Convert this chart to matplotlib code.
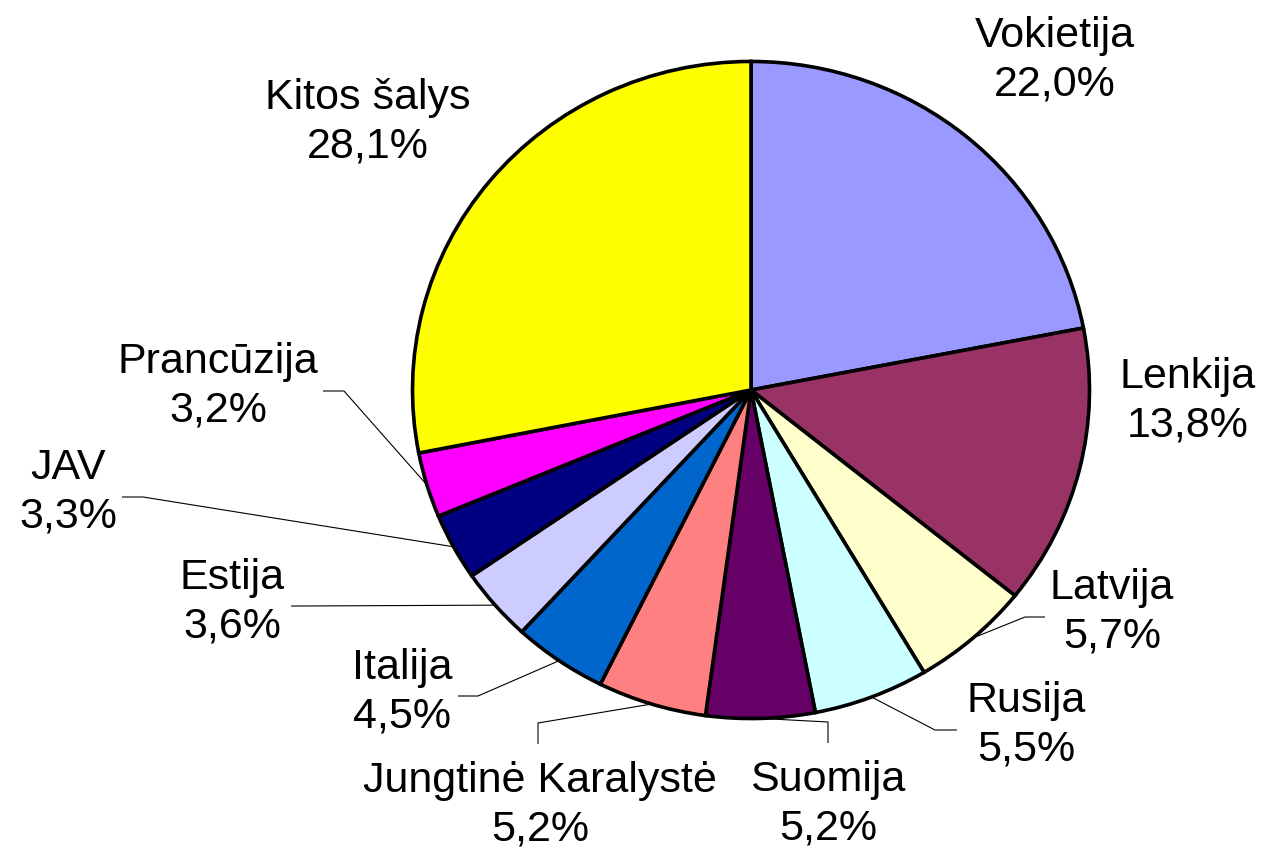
import matplotlib
matplotlib.use('Agg')
import matplotlib.pyplot as plt
import numpy as np

# export shares by country, clockwise from the top
countries = ['Vokietija', 'Lenkija', 'Latvija', 'Rusija', 'Suomija',
             'Jungtinė Karalystė', 'Italija', 'Estija', 'JAV', 'Prancūzija',
             'Kitos šalys']
shares = [22.0, 13.8, 5.7, 5.5, 5.2, 5.2, 4.5, 3.6, 3.3, 3.2, 28.1]
colors = ['#9999FF', '#993366', '#FFFFCC', '#CCFFFF', '#660066', '#FF8080',
          '#0066CC', '#CCCCFF', '#000080', '#FF00FF', '#FFFF00']

# layout, in image pixels (origin top left)
W, H = 1264, 852
CX, CY = 751, 390
R = 338.5            # horizontal radius
K = 340.0 / 330.0    # pie is slightly squashed vertically
label_pos = [(1055, 60), (1188, 401), (1112, 612), (1026, 725), (828, 804),
             (540, 805), (402, 692), (232, 602), (68, 492), (218, 386),
             (368, 122)]
# leader lines: elbow and end point, None where there is no leader
leaders = [None, None,
           ((1025, 617), (1045, 617)),
           ((935, 730), (957, 730)),
           ((828, 722), (828, 743)),
           ((538, 723), (538, 744)),
           ((478, 696), (458, 696)),
           ((300, 606), (291, 606)),
           ((143, 497), (122, 497)),
           ((344, 391), (323, 391)),
           None]

plt.rcParams['font.family'] = ['Liberation Sans', 'DejaVu Sans']

fig = plt.figure(figsize=(W / 100.0, H / 100.0), dpi=100)
ax = fig.add_axes([0, 0, 1, 1])

def px(x, y):
    # image pixel -> data coords (y runs down, scaled)
    return x, y * K

# y axis inverted, so counterclock in data is clockwise on screen
ax.pie(shares, colors=colors, startangle=270, counterclock=True,
       center=px(CX, CY), radius=R,
       wedgeprops=dict(edgecolor='black', linewidth=2.6))
ax.set_aspect('auto')
ax.set_xlim(0, W)
ax.set_ylim(H * K, 0)
ax.axis('off')

total = float(sum(shares))
cum = np.cumsum(shares) - np.array(shares) / 2.0
for i, name in enumerate(countries):
    pct = ('%.1f%%' % shares[i]).replace('.', ',')
    tx, ty = px(*label_pos[i])
    ax.text(tx, ty, name + '\n' + pct, ha='center', va='center',
            fontsize=31, linespacing=1.28, color='black')
    if leaders[i] is None:
        continue
    phi = 2 * np.pi * cum[i] / total
    sx = CX + R * np.sin(phi)
    sy = CY - (R / K) * np.cos(phi)
    (ex, ey), (fx, fy) = leaders[i]
    xs = [sx, ex, fx]
    ys = [sy * K, ey * K, fy * K]
    ax.plot(xs, ys, color='black', linewidth=0.8, solid_capstyle='butt')

fig.savefig('out.png', dpi=100, facecolor='white')
